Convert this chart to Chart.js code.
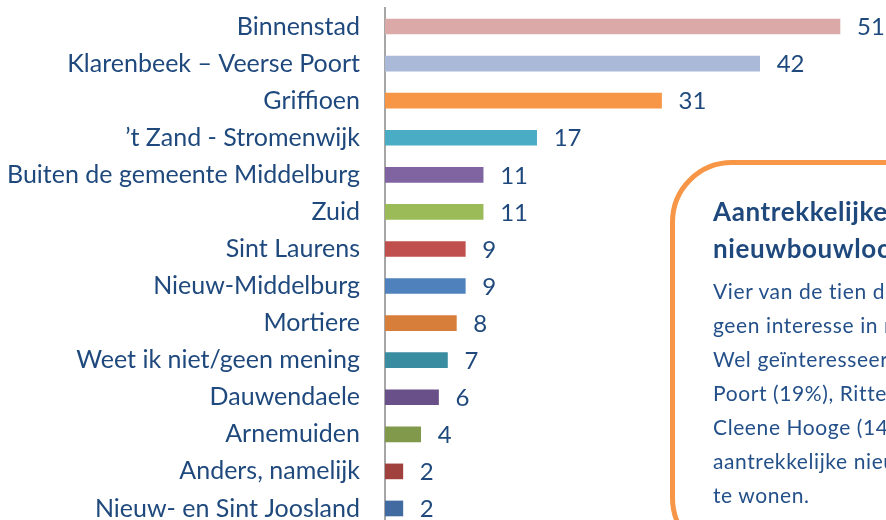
<!DOCTYPE html>
<html>
<head>
<meta charset="utf-8">
<script src="https://cdn.jsdelivr.net/npm/chart.js@4/dist/chart.umd.min.js"></script>
<style>
  html, body { margin:0; padding:0; width:886px; height:520px; overflow:hidden; background:#fff; }
  #wrap { position:absolute; left:0; top:0; width:886px; height:527px; }
  #box { position:absolute; left:670px; top:160px; width:340px; height:400px; box-sizing:border-box;
         border:5px solid #F79646; border-radius:62px; background:#fff;
         font-family: Lato, "Open Sans", sans-serif; color:#1F497D; padding:28.4px 0 0 38px; white-space:nowrap; }
  #box .t { font-weight:bold; font-size:26px; line-height:37px; letter-spacing:0.6px; }
  #box .b { font-size:21px; line-height:34px; margin-top:6.5px; letter-spacing:0.6px; color:#24508a; }
</style>
</head>
<body>
<div id="wrap"><canvas id="c" width="886" height="527"></canvas></div>
<div id="box">
  <div class="t">Aantrekkelijke<br>nieuwbouwlocaties</div>
  <div class="b">Vier van de tien deelnemers heeft<br>geen interesse in nieuwbouw.<br>Wel geïnteresseerden noemen Veerse<br>Poort (19%), Rittenburg en<br>Cleene Hooge (14%) als<br>aantrekkelijke  nieuwbouwlocaties om<br>te wonen.</div>
</div>
<script>
const categories = ["Binnenstad","Klarenbeek \u2013 Veerse Poort","Griffioen","\u2019t Zand - Stromenwijk","Buiten de gemeente Middelburg","Zuid","Sint Laurens","Nieuw-Middelburg","Mortiere","Weet ik niet/geen mening","Dauwendaele","Arnemuiden","Anders, namelijk","Nieuw- en Sint Joosland"];
const values = [51,42,31,17,11,11,9,9,8,7,6,4,2,2];
const barColors = ["#DBA9A8","#AAB9D7","#F79646","#4BACC6","#8064A2","#9BBB59","#C0504D","#4F81BD","#D77E3A","#3A8CA0","#6A5088","#80994A","#A0413E","#416AA0"];

const valueLabels = {
  id:'valueLabels',
  afterDatasetsDraw(chart){
    const ctx = chart.ctx;
    const meta = chart.getDatasetMeta(0);
    ctx.save();
    ctx.font = '24px Lato, "Open Sans", sans-serif';
    ctx.fillStyle = '#1F497D';
    ctx.textAlign = 'left';
    ctx.textBaseline = 'middle';
    meta.data.forEach((bar,i)=>{
      ctx.fillText(String(chart.data.datasets[0].data[i]), bar.x + 17, bar.y + 1);
    });
    ctx.restore();
  }
};

new Chart(document.getElementById('c'), {
  type:'bar',
  data:{ labels:categories, datasets:[{ data:values, backgroundColor:barColors, barThickness:15, borderWidth:0 }] },
  options:{
    indexAxis:'y',
    responsive:false,
    animation:false,
    layout:{ padding:{ top:8, bottom:0, left:0, right:0 } },
    plugins:{ legend:{display:false}, tooltip:{enabled:false} },
    scales:{
      x:{ display:false, min:0, max:56.16 },
      y:{
        afterFit(s){ s.width = 385; s.paddingTop = 0; s.paddingBottom = 0; },
        grid:{ display:false, drawTicks:false },
        border:{ display:true, color:'#A6A6A6', width:2 },
        ticks:{ padding:25, color:'#1F497D', font:{ family:'Lato, "Open Sans", sans-serif', size:25 } }
      }
    }
  },
  plugins:[valueLabels]
});
</script>
</body>
</html>
